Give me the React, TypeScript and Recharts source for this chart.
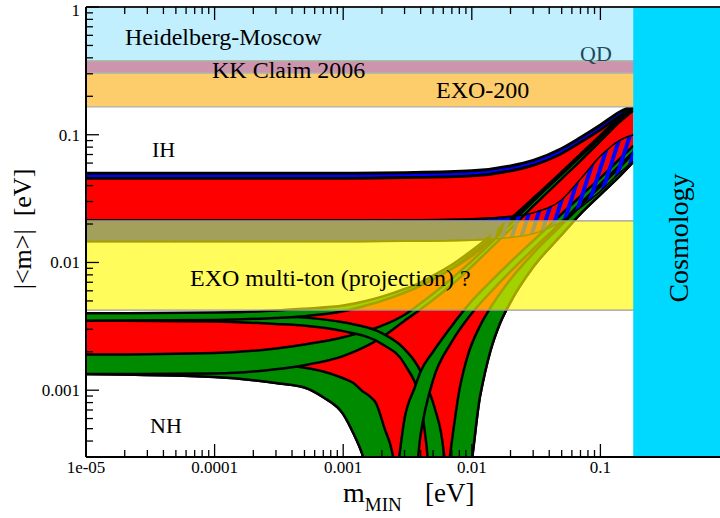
import { Area, ComposedChart, XAxis, YAxis } from 'recharts'

const SERIF = "'Liberation Serif', 'Times New Roman', serif"
const W = 729
const H = 518
const LEFT = 86
const TOP = 7
const BOTTOM = 457
const Y_AXIS_W = 30
const X_AXIS_H = 30

// value below the y-axis minimum: used where |<m>| drops to zero
const FLOOR = 0.0002

const X_MAJOR = [1e-5, 1e-4, 1e-3, 0.01, 0.1]
const X_MAJOR_LABELS = ['1e-05', '0.0001', '0.001', '0.01', '0.1']
const Y_MAJOR = [0.001, 0.01, 0.1, 1]
const Y_MAJOR_LABELS = ['0.001', '0.01', '0.1', '1']

// horizontal bands [low, high] in eV
const BAND_M = [1e-5, 1]
const HM = [0.378, 1]
const KK = [0.304, 0.378]
const EXO200 = [0.165, 0.304]
const EXO_TON = [0.00424, 0.0212]
const COSMO_M = [0.18, 1]
const COSMO = [FLOOR, 1]

// inverted hierarchy
const M_IH = [1e-5, 1e-4, 1e-3, 3e-3, 0.01, 0.02, 0.03, 0.05, 0.07, 0.1, 0.14, 0.18]
const IH_TOP3 = [0.05, 0.05, 0.05, 0.0505, 0.0522, 0.057, 0.063, 0.078, 0.095, 0.119, 0.15, 0.17]
const IH_TOP = [0.0455, 0.0455, 0.0455, 0.046, 0.0475, 0.052, 0.0575, 0.071, 0.087, 0.109, 0.138, 0.155]
const IH_LOW = [0.0213, 0.0213, 0.0213, 0.0214, 0.0218, 0.0228, 0.0245, 0.031, 0.045, 0.068, 0.09, 0.1]
const IH_LOW3 = [0.0146, 0.0146, 0.0146, 0.0147, 0.015, 0.0157, 0.0168, 0.021, 0.027, 0.036, 0.05, 0.062]

// normal hierarchy, best-fit region
const M_RED = [1e-5, 1e-4, 3e-4, 5e-4, 7e-4, 1e-3, 1.2e-3, 1.4e-3, 1.6e-3, 3e-3, 5e-3, 9.2e-3, 0.0116, 0.0139, 0.0167, 0.02, 0.03, 0.05, 0.07, 0.1, 0.14, 0.18]
const RED_LO = [0.00134, 0.00127, 0.00114, 0.00105, 0.00088, 0.00065, 0.00046, 0.00032, FLOOR, FLOOR, FLOOR, FLOOR, 0.0009, 0.002, 0.0034, 0.0049, 0.0092, 0.0165, 0.024, 0.034, 0.047, 0.061]
const RED_HI = [0.0038, 0.0038, 0.0039, 0.004, 0.0041, 0.0043, 0.0045, 0.0046, 0.0048, 0.0058, 0.0074, 0.0106, 0.0126, 0.0148, 0.0172, 0.0204, 0.03, 0.049, 0.0675, 0.0955, 0.133, 0.165]

// normal hierarchy, uncertainty bands around each phase curve
const M_G1 = [1e-5, 1e-4, 3e-4, 5e-4, 1e-3, 1.5e-3, 2e-3, 3e-3, 4e-3, 5e-3, 7e-3, 0.01, 0.015, 0.02, 0.03, 0.05, 0.07, 0.1, 0.14, 0.18]
const G1_HI = [0.004, 0.00405, 0.0042, 0.00435, 0.0046, 0.005, 0.0054, 0.0062, 0.007, 0.0079, 0.0096, 0.0124, 0.0172, 0.022, 0.0318, 0.0512, 0.0705, 0.099, 0.137, 0.171]
const G1_LO = [0.0035, 0.00355, 0.00368, 0.0038, 0.00415, 0.0046, 0.005, 0.0058, 0.0066, 0.0074, 0.009, 0.0117, 0.0163, 0.021, 0.0305, 0.0495, 0.068, 0.0955, 0.133, 0.165]

const M_G3 = M_G1
const G3_HI = [0.0019, 0.00196, 0.00212, 0.00228, 0.0026, 0.0029, 0.0032, 0.0039, 0.0048, 0.0057, 0.0075, 0.0103, 0.0151, 0.02, 0.0301, 0.049, 0.0675, 0.095, 0.131, 0.161]
const G3_LO = [0.00134, 0.00135, 0.00146, 0.00157, 0.00185, 0.0022, 0.0026, 0.0035, 0.0043, 0.0051, 0.0067, 0.0093, 0.0138, 0.0183, 0.0276, 0.0452, 0.0625, 0.089, 0.125, 0.155]

const M_G2 = [1e-5, 1e-4, 3e-4, 5e-4, 1e-3, 2e-3, 3e-3, 4e-3, 4.4e-3, 4.8e-3, 5.2e-3, 5.8e-3, 6.4e-3]
const G2_HI = [0.004, 0.00395, 0.0038, 0.0037, 0.0034, 0.0028, 0.0021, 0.0014, 0.0011, 0.0009, 0.0007, 0.00045, FLOOR]
const G2_LO = [0.0035, 0.00345, 0.0033, 0.0032, 0.0029, 0.0023, 0.0016, 0.0008, 0.0004, FLOOR, FLOOR, FLOOR, FLOOR]

const M_G2P = [6.4e-3, 7e-3, 8e-3, 9.2e-3, 0.0116, 0.0139, 0.0167, 0.02, 0.03, 0.05, 0.07, 0.1, 0.14, 0.18]
const G2P_HI = [FLOOR, 0.0004, 0.001, 0.0018, 0.0032, 0.0044, 0.0058, 0.0074, 0.0118, 0.0198, 0.0278, 0.0395, 0.055, 0.071]
const G2P_LO = [FLOOR, FLOOR, FLOOR, FLOOR, 0.0009, 0.002, 0.0034, 0.0049, 0.0092, 0.0165, 0.024, 0.034, 0.047, 0.061]

const M_G4 = [1e-5, 1e-4, 3e-4, 5e-4, 7e-4, 1e-3, 1.2e-3, 1.4e-3, 1.6e-3, 1.8e-3, 2.1e-3, 2.4e-3, 2.6e-3]
const G4_HI = [0.00178, 0.00172, 0.0016, 0.0015, 0.0014, 0.00124, 0.00114, 0.00099, 0.0009, 0.00079, 0.0005, 0.00033, FLOOR]
const G4_LO = [0.00134, 0.00127, 0.00114, 0.00105, 0.00088, 0.00065, 0.00046, 0.00032, FLOOR, FLOOR, FLOOR, FLOOR, FLOOR]

const M_G4P = [2.6e-3, 3e-3, 3.6e-3, 4e-3, 5e-3, 7e-3, 0.01, 0.015, 0.02, 0.03, 0.05, 0.07, 0.1, 0.14, 0.18]
const G4P_HI = [FLOOR, 0.0006, 0.00105, 0.0014, 0.002, 0.0032, 0.005, 0.0076, 0.0101, 0.0148, 0.024, 0.033, 0.046, 0.064, 0.082]
const G4P_LO = [FLOOR, FLOOR, FLOOR, 0.00045, 0.0012, 0.0024, 0.004, 0.0063, 0.0085, 0.0127, 0.0208, 0.029, 0.041, 0.057, 0.073]

const RED = '#ff0000'
const GREEN = '#008a00'
const BLUE = '#0000ff'

function decadeTicks(fromExp: number, toExp: number, startMult = 1) {
  const out: number[] = []
  for (let e = fromExp; e < toExp; e++) {
    for (let k = e === fromExp ? startMult : 1; k <= 9; k++) out.push(k * Math.pow(10, e))
  }
  out.push(Math.pow(10, toExp))
  return out
}

const X_TICKS = decadeTicks(-5, -1)
const Y_TICKS = decadeTicks(-4, 0, 4)

const isMajor = (v: number) => {
  const l = Math.log10(v)
  return Math.abs(l - Math.round(l)) < 1e-9
}
const labelOf = (v: number, majors: number[], labels: string[]) => {
  const i = majors.findIndex((t) => Math.abs(t - v) / t < 1e-6)
  return i >= 0 ? labels[i] : null
}

const rows = (m: number[], lo: number[], hi: number[]) => m.map((v, i) => ({ m: v, r: [lo[i], hi[i]] }))
const band = (m: number[], r: number[]) => m.map((v) => ({ m: v, r }))

function BottomTick(props: any) {
  const { x, payload } = props
  const len = isMajor(payload.value) ? 13 : 7
  const label = labelOf(payload.value, X_MAJOR, X_MAJOR_LABELS)
  return (
    <g>
      <line x1={x} x2={x} y1={BOTTOM} y2={BOTTOM - len} stroke="#000" strokeWidth={1.3} />
      {label && (
        <text x={x} y={BOTTOM + 16} textAnchor="middle" fontSize={17} fontFamily={SERIF} fill="#000">
          {label}
        </text>
      )}
    </g>
  )
}

function TopTick(props: any) {
  const { x, payload } = props
  const len = isMajor(payload.value) ? 13 : 7
  return <line x1={x} x2={x} y1={TOP} y2={TOP + len} stroke="#000" strokeWidth={1.3} />
}

function LeftTick(props: any) {
  const { y, payload } = props
  const len = isMajor(payload.value) ? 13 : 7
  const label = labelOf(payload.value, Y_MAJOR, Y_MAJOR_LABELS)
  return (
    <g>
      <line x1={LEFT} x2={LEFT + len} y1={y} y2={y} stroke="#000" strokeWidth={1.3} />
      {label && (
        <text x={80} y={Math.max(y + 6, 16)} textAnchor="end" fontSize={17} fontFamily={SERIF} fill="#000">
          {label}
        </text>
      )}
    </g>
  )
}

const common = {
  xAxisId: 'x',
  yAxisId: 'y',
  dataKey: 'r',
  isAnimationActive: false,
  dot: false,
  activeDot: false,
  fillOpacity: 1,
} as const

export default function App() {
  const curve = (data: any[], fill: string, sw = 2.5) => (
    <Area {...common} data={data} type="monotone" fill={fill} stroke="#000" strokeWidth={sw} />
  )
  const flat = (data: any[], fill: string, stroke: string, opacity = 1) => (
    <Area {...common} data={data} type="linear" fill={fill} fillOpacity={opacity} stroke={stroke} strokeWidth={1.3} />
  )

  return (
    <div style={{ position: 'absolute', left: 0, top: 0, width: 720, height: 518, overflow: 'hidden', background: '#fff' }}>
      <svg width={0} height={0} style={{ position: 'absolute' }}>
        <defs>
          <pattern id="ihHatch" width="9" height="9" patternUnits="userSpaceOnUse" patternTransform="rotate(18)">
            <rect x="0" y="0" width="4" height="9" fill={BLUE} />
          </pattern>
        </defs>
      </svg>
      <ComposedChart
        width={W}
        height={H}
        margin={{ top: TOP - 1, right: 0, bottom: H - BOTTOM - X_AXIS_H, left: LEFT - Y_AXIS_W }}
      >
        <XAxis
          xAxisId="x"
          dataKey="m"
          type="number"
          scale="log"
          domain={[1e-5, 1]}
          allowDataOverflow
          ticks={X_TICKS}
          interval={0}
          height={X_AXIS_H}
          tickLine={false}
          axisLine={{ stroke: '#000', strokeWidth: 2 }}
          tick={BottomTick}
        />
        <XAxis
          xAxisId="top"
          orientation="top"
          dataKey="m"
          type="number"
          scale="log"
          domain={[1e-5, 1]}
          allowDataOverflow
          ticks={X_TICKS}
          interval={0}
          height={1}
          tickLine={false}
          axisLine={{ stroke: '#222', strokeWidth: 2 }}
          tick={TopTick}
        />
        <YAxis
          yAxisId="y"
          type="number"
          scale="log"
          domain={[3e-4, 1]}
          allowDataOverflow
          ticks={Y_TICKS}
          interval={0}
          width={Y_AXIS_W}
          tickLine={false}
          axisLine={{ stroke: '#000', strokeWidth: 2 }}
          tick={LeftTick}
        />

        {curve(rows(M_IH, IH_TOP, IH_TOP3), BLUE, 3)}
        {curve(rows(M_IH, IH_LOW, IH_TOP), RED)}
        {curve(rows(M_IH, IH_LOW3, IH_LOW), BLUE, 2)}

        {curve(rows(M_RED, RED_LO, RED_HI), RED)}
        {curve(rows(M_G4, G4_LO, G4_HI), GREEN)}
        {curve(rows(M_G3, G3_LO, G3_HI), GREEN)}
        {curve(rows(M_G2, G2_LO, G2_HI), GREEN)}
        {curve(rows(M_G1, G1_LO, G1_HI), GREEN)}
        {curve(rows(M_G4P, G4P_LO, G4P_HI), GREEN)}
        {curve(rows(M_G2P, G2P_LO, G2P_HI), GREEN)}
        {curve(rows(M_IH, IH_LOW3, IH_LOW), 'url(#ihHatch)', 1.5)}

        {flat(band(BAND_M, EXO_TON), '#fffa00', '#9a9a9a', 0.64)}
        {flat(band(BAND_M, HM), '#c2effd', '#a9c4a4')}
        {flat(band(BAND_M, KK), '#cc95ad', '#a9b9a0')}
        {flat(band(BAND_M, EXO200), '#fdcc6b', '#b0b0b0')}
        {flat(band(COSMO_M, COSMO), '#00d9ff', '#5f8f9f')}
      </ComposedChart>

      <svg
        width={720}
        height={518}
        style={{ position: 'absolute', left: 0, top: 0, pointerEvents: 'none' }}
        fontFamily={SERIF}
      >
        <text x={125} y={45} fontSize={24}>Heidelberg-Moscow</text>
        <text x={212} y={78} fontSize={24}>KK Claim 2006</text>
        <text x={580} y={61} fontSize={22} fill="#1d4a5c">QD</text>
        <text x={436} y={98} fontSize={24}>EXO-200</text>
        <text x={152} y={157} fontSize={22}>IH</text>
        <text x={190} y={286} fontSize={24}>EXO multi-ton (projection) ?</text>
        <text x={150} y={433} fontSize={22}>NH</text>
        <text transform="translate(688,238) rotate(-90)" textAnchor="middle" fontSize={28}>Cosmology</text>
        <text transform="translate(31,229) rotate(-90)" textAnchor="middle" fontSize={26}>
          {'|<m>|\u00a0\u00a0[eV]'}
        </text>
        <text x={343} y={502} fontSize={28}>
          m<tspan fontSize={19} dy={9}>MIN</tspan>
        </text>
        <text x={425} y={502} fontSize={27}>[eV]</text>
      </svg>
    </div>
  )
}
